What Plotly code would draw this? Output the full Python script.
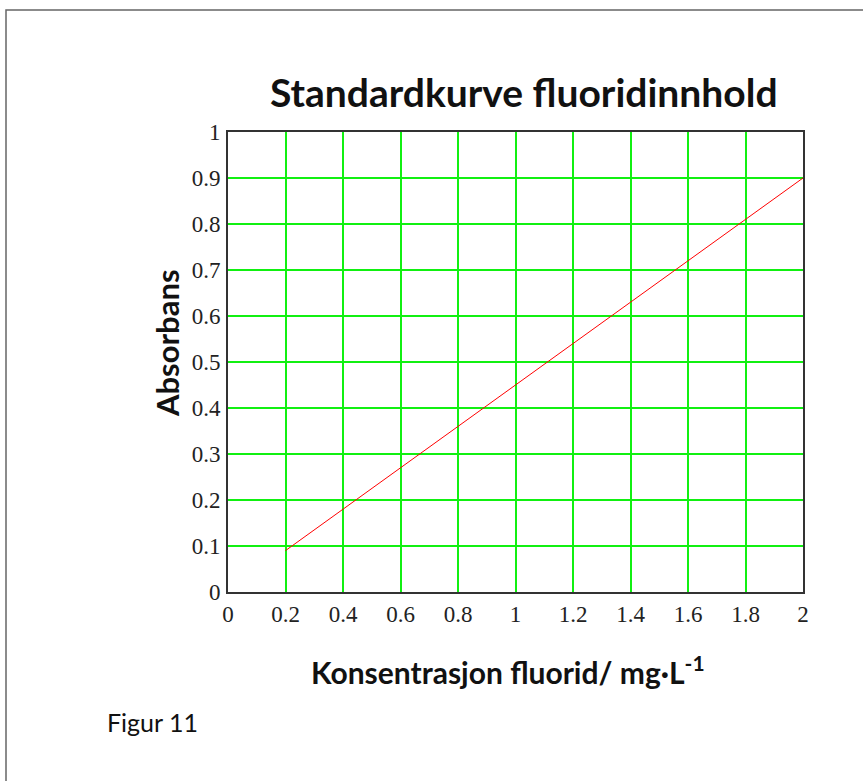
import plotly.graph_objects as go

conc = [0.2, 2.0]
absorb = [0.09, 0.90]
x_ticks = [0, 0.2, 0.4, 0.6, 0.8, 1, 1.2, 1.4, 1.6, 1.8, 2]
y_ticks = [0, 0.1, 0.2, 0.3, 0.4, 0.5, 0.6, 0.7, 0.8, 0.9, 1]

W, H = 863, 781
L, R, T, B = 228, 60, 132, 189
pw, ph = W - L - R, H - T - B

def px(x):
    return (x - L) / pw

def py(y):
    return (H - B - y) / ph

fig = go.Figure()
fig.add_trace(go.Scatter(x=conc, y=absorb, mode="lines",
                         line=dict(color="#ff0000", width=1), showlegend=False))

axis_common = dict(showgrid=True, gridcolor="#11f011", gridwidth=2,
                   showline=True, linecolor="#333333", linewidth=2, mirror=True,
                   zeroline=False, ticks="",
                   tickfont=dict(family="Liberation Serif", size=23, color="#222222"))

fig.update_xaxes(range=[0, 2], tickvals=x_ticks,
                 ticktext=[f"{v:g}" for v in x_ticks], ticklabelstandoff=0, **axis_common)
fig.update_yaxes(range=[0, 1], tickvals=y_ticks,
                 ticktext=[f"{v:g}" for v in y_ticks], ticklabelstandoff=1, **axis_common)

def ann(text, x, y, size, xanchor="center", angle=0):
    return dict(text=text, xref="paper", yref="paper", x=px(x), y=py(y),
                xanchor=xanchor, yanchor="middle", showarrow=False, textangle=angle,
                font=dict(family="Lato", size=size, color="#111111"))

fig.update_layout(
    width=W, height=H, autosize=False,
    margin=dict(l=L, r=R, t=T, b=B, pad=0),
    plot_bgcolor="white", paper_bgcolor="white",
    shapes=[dict(type="rect", xref="paper", yref="paper",
                 x0=px(6), x1=px(W + 10), y0=py(H + 10), y1=py(10),
                 line=dict(color="#666666", width=1.5), layer="below")],
    annotations=[
        ann("<b>Standardkurve fluoridinnhold</b>", 524, 92, 39),
        ann("<b>Absorbans</b>", 167, 343, 31, angle=-90),
        ann("<b>Konsentrasjon fluorid/ mg·L<sup>-1</sup></b>", 508, 670, 30),
        ann("Figur 11", 105, 722, 25, xanchor="left"),
    ],
)

fig.write_html("out.html", config={"displayModeBar": False},
               post_script="document.body.style.margin='0';")
